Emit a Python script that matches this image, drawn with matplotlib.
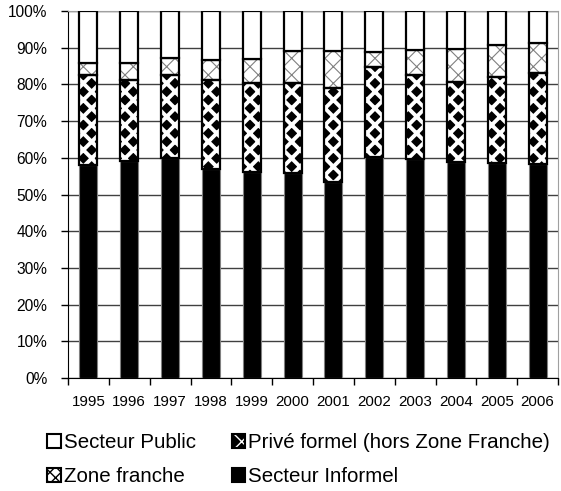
import matplotlib
matplotlib.use("Agg")
import matplotlib.pyplot as plt
from matplotlib.patches import Patch
from matplotlib.legend_handler import HandlerTuple
import numpy as np

plt.rcParams['font.family'] = ['Liberation Sans', 'DejaVu Sans']

years = ['1995', '1996', '1997', '1998', '1999', '2000',
         '2001', '2002', '2003', '2004', '2005', '2006']
# shares in %, bottom to top
informel = [58.0, 59.1, 59.9, 57.0, 56.2, 55.8, 53.3, 60.3, 59.7, 58.8, 58.5, 58.3]
prive = [24.6, 22.1, 22.6, 24.2, 24.1, 24.7, 25.7, 24.4, 22.9, 21.9, 23.6, 24.9]
zone = [3.3, 4.5, 4.7, 5.4, 6.7, 8.7, 10.1, 4.0, 6.8, 8.9, 8.5, 8.0]
public = [14.1, 14.3, 12.8, 13.4, 13.0, 10.8, 10.9, 11.3, 10.6, 10.4, 9.4, 8.8]

fig = plt.figure(figsize=(5.61, 4.91), dpi=100)
ax = fig.add_axes([0.1212, 0.2301, 0.8735, 0.7475])

x = np.arange(len(years))
w = 0.44
inf = np.array(informel)
pri = np.array(prive)
zon = np.array(zone)
pub = np.array(public)

ax.bar(x, inf, w, color='black', edgecolor='#808080', linewidth=0.8, zorder=3)

# prive formel: black with white diamond-ish pattern
with plt.rc_context({'hatch.linewidth': 2.8}):
    ax.bar(x, pri, w, bottom=inf, color='black', edgecolor='white', hatch='xx',
           linewidth=0, zorder=3)
ax.bar(x, pri, w, bottom=inf, fill=False, edgecolor='black', linewidth=1.6, zorder=4)

with plt.rc_context({'hatch.linewidth': 0.8}):
    ax.bar(x, zon, w, bottom=inf + pri, color='white', edgecolor='#808080', hatch='xx',
           linewidth=0, zorder=3)
ax.bar(x, zon, w, bottom=inf + pri, fill=False, edgecolor='black', linewidth=1.6, zorder=4)

ax.bar(x, pub, w, bottom=inf + pri + zon, color='white', edgecolor='black',
       linewidth=1.6, zorder=4)

ax.set_xlim(-0.5, len(years) - 0.5)
ax.set_ylim(0, 100)
ax.set_yticks(np.arange(0, 101, 10))
ax.set_yticklabels([f'{v}%' for v in range(0, 101, 10)], fontsize=11.2)
ax.yaxis.grid(True, color='#404040', linewidth=1)
ax.set_axisbelow(True)

ax.set_xticks(x)
ax.set_xticklabels(years, fontsize=10.9)
ax.set_xticks(np.arange(-0.5, len(years), 1), minor=True)
ax.tick_params(axis='x', which='major', length=0, pad=12)
ax.tick_params(axis='x', which='minor', length=5, width=1, color='black')
ax.tick_params(axis='y', length=5, width=1, color='black', pad=10)

for s in ['top', 'right']:
    ax.spines[s].set_color('#a0a0a0')
for s in ['left', 'bottom']:
    ax.spines[s].set_color('black')

# legend swatches
with plt.rc_context({'hatch.linewidth': 1.0}):
    h_zone = Patch(facecolor='white', edgecolor='black', hatch='xxx', linewidth=1.5)
with plt.rc_context({'hatch.linewidth': 1.6}):
    h_prive_fill = Patch(facecolor='black', edgecolor='white', hatch='xx', linewidth=0)
h_prive_edge = Patch(fill=False, edgecolor='black', linewidth=1.5)
h_public = Patch(facecolor='white', edgecolor='black', linewidth=1.5)
h_inf = Patch(facecolor='black', edgecolor='black', linewidth=1.5)

handles = [h_public, h_zone, (h_prive_fill, h_prive_edge), h_inf]
labels = ['Secteur Public', 'Zone franche', 'Privé formel (hors Zone Franche)', 'Secteur Informel']
fig.legend(handles, labels, loc='upper left', bbox_to_anchor=(0.07, 0.135),
           ncol=2, frameon=False, fontsize=14.8, handlelength=0.65, handleheight=0.65,
           handletextpad=0.15, columnspacing=1.75, labelspacing=0.75, borderaxespad=0,
           handler_map={tuple: HandlerTuple(ndivide=1, pad=0)})

fig.savefig('out.png', dpi=100)
